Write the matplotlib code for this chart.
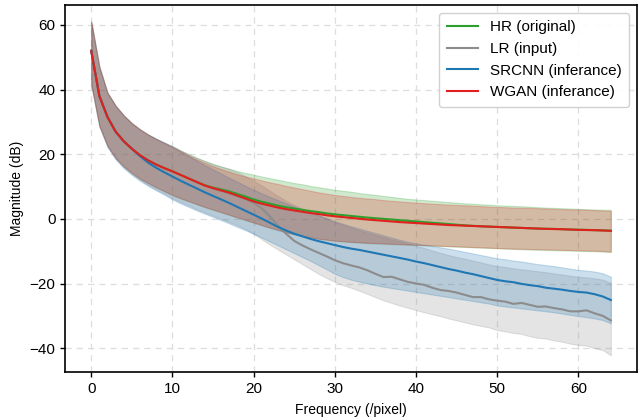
import numpy as np
import matplotlib
matplotlib.use("Agg")
import matplotlib.pyplot as plt

plt.rcParams['font.family'] = ['Liberation Sans', 'DejaVu Sans']

freq = list(range(65))

hr_mean = [52, 38, 31.5, 27, 24, 21.7, 19.7, 18.1, 16.8, 15.7, 14.7, 13.6, 12.5, 11.4, 10.4, 9.7, 9.1, 8.5, 7.7, 6.9,
           6.0, 5.3, 4.7, 4.1, 3.6, 3.2, 2.8, 2.4, 2.1, 1.7, 1.4, 1.15, 0.9, 0.65, 0.4, 0.2, 0.0, -0.2, -0.4, -0.6,
           -0.8, -1.0, -1.2, -1.4, -1.6, -1.8, -2.0, -2.15, -2.3, -2.4, -2.5, -2.6, -2.7, -2.8, -2.9, -3.0, -3.05, -3.1, -3.2, -3.3,
           -3.35, -3.4, -3.5, -3.55, -3.65]
hr_hi = [61, 47, 39, 35, 32, 29.6, 27.7, 26.1, 24.8, 23.6, 22.5, 21.2, 20.0, 18.9, 17.9, 17.0, 16.2, 15.5, 14.8, 14.2,
         13.7, 13.1, 12.6, 12.1, 11.6, 11.1, 10.7, 10.2, 9.8, 9.4, 9.0, 8.7, 8.4, 8.0, 7.7, 7.4, 7.1, 6.8, 6.5, 6.2,
         6.0, 5.8, 5.6, 5.4, 5.2, 5.0, 4.8, 4.7, 4.5, 4.4, 4.2, 4.1, 4.0, 3.9, 3.8, 3.6, 3.5, 3.4, 3.3, 3.2,
         3.1, 3.0, 2.9, 2.85, 2.8]
hr_lo = [41.5, 28.7, 22.5, 18.8, 16.2, 14.2, 12.4, 11.0, 9.7, 8.5, 7.3, 6.3, 5.4, 4.5, 3.6, 2.8, 2.0, 1.2, 0.4, -0.4,
         -1.2, -2.0, -2.8, -3.5, -4.2, -4.8, -5.3, -5.8, -6.2, -6.5, -6.8, -7.0, -7.2, -7.35, -7.5, -7.6, -7.7, -7.8, -7.9, -8.0,
         -8.1, -8.2, -8.3, -8.4, -8.5, -8.6, -8.7, -8.8, -8.9, -9.0, -9.1, -9.2, -9.3, -9.4, -9.5, -9.55, -9.6, -9.7, -9.75, -9.8,
         -9.9, -9.95, -10.0, -10.1, -10.3]

lr_mean = [52, 38, 31.5, 27, 24, 21.7, 19.7, 18.1, 16.8, 15.7, 14.7, 13.6, 12.5, 11.4, 10.3, 9.5, 8.7, 7.9, 7.0, 6.1,
           5.0, 3.3, 0.7, -2.1, -4.6, -6.8, -8.2, -9.4, -10.5, -11.6, -12.8, -13.7, -14.4, -15.0, -15.9, -17.0, -18.0, -17.9, -18.7, -19.5,
           -20.0, -20.4, -21.3, -22.0, -22.3, -22.8, -23.5, -24.2, -24.2, -24.9, -25.3, -25.6, -26.3, -26.0, -26.6, -27.2, -27.1, -27.6, -28.0, -28.6,
           -28.6, -28.3, -29.2, -30.0, -31.4]
lr_hi = [61, 47, 39, 35, 32, 29.6, 27.7, 26.1, 24.8, 23.6, 22.5, 21.2, 20.0, 18.9, 17.9, 17.0, 16.2, 15.5, 14.5, 13.2,
         11.8, 10.3, 8.7, 7.1, 5.6, 4.3, 3.1, 2.1, 1.1, 0.1, -1.0, -1.8, -2.7, -3.5, -4.3, -5.0, -5.7, -6.4, -7.0, -7.6,
         -8.3, -9.0, -9.8, -10.5, -11.2, -11.8, -12.3, -12.9, -13.5, -14.1, -14.6, -14.9, -15.3, -15.6, -15.9, -16.2, -16.5, -16.9, -17.2, -17.6,
         -17.9, -18.1, -18.4, -18.8, -19.8]
lr_lo = [41.8, 28.8, 22.5, 18.7, 16.0, 13.9, 12.1, 10.5, 9.1, 7.8, 6.4, 5.2, 4.1, 3.0, 2.0, 1.0, 0.0, -1.0, -2.0, -3.2,
         -4.6, -6.3, -8.0, -9.5, -11.0, -12.5, -14.0, -15.5, -17.0, -18.3, -19.5, -20.5, -21.3, -22.2, -23.2, -24.2, -25.2, -26.0, -26.8, -27.5,
         -28.2, -28.9, -29.5, -30.1, -30.8, -31.4, -32.0, -32.6, -33.1, -33.6, -34.4, -34.8, -35.3, -35.6, -36.3, -36.8, -37.0, -37.6, -38.0, -38.6,
         -39.0, -39.2, -40.0, -40.6, -42.2]

sr_mean = [52, 38, 31.5, 27, 24, 21.7, 19.4, 17.4, 15.8, 14.4, 13.1, 11.8, 10.6, 9.4, 8.2, 7.1, 6.0, 4.9, 3.7, 2.5,
           1.3, 0.1, -1.2, -2.5, -3.6, -4.6, -5.4, -6.2, -6.9, -7.5, -8.1, -8.7, -9.2, -9.6, -10.1, -10.6, -11.1, -11.6, -12.1, -12.6,
           -13.2, -13.7, -14.3, -14.9, -15.5, -16.0, -16.6, -17.1, -17.7, -18.3, -18.9, -19.3, -19.6, -20.1, -20.5, -20.8, -21.3, -21.6, -21.9, -22.3,
           -22.6, -22.8, -23.3, -24.0, -25.1]
sr_hi = [61, 47, 39, 35, 32, 29.6, 27.7, 26.1, 24.8, 23.6, 22.3, 20.9, 19.4, 18.0, 16.6, 15.3, 14.0, 12.7, 11.5, 10.2,
         9.0, 7.9, 6.8, 5.8, 4.8, 3.8, 2.9, 2.0, 1.1, 0.2, -0.8, -1.5, -2.3, -3.0, -3.7, -4.4, -5.1, -5.8, -6.5, -7.1,
         -7.6, -8.0, -8.4, -8.8, -9.2, -9.7, -10.2, -10.7, -11.2, -11.7, -12.2, -12.5, -12.9, -13.2, -13.6, -14.0, -14.3, -14.6, -15.0, -15.4,
         -15.8, -16.0, -16.3, -16.8, -17.9]
sr_lo = [41.5, 28.5, 22.2, 18.4, 15.7, 13.6, 11.8, 10.2, 8.8, 7.5, 6.0, 4.8, 3.7, 2.6, 1.6, 0.6, -0.4, -1.4, -2.5, -3.5,
         -4.6, -5.8, -7.0, -8.2, -9.4, -10.6, -11.8, -13.0, -14.3, -15.6, -17.0, -18.0, -18.8, -19.4, -20.0, -20.5, -21.0, -21.4, -21.8, -22.2,
         -22.6, -23.0, -23.4, -23.8, -24.2, -24.6, -25.0, -25.4, -25.8, -26.2, -26.8, -27.1, -27.4, -27.7, -28.0, -28.3, -28.6, -28.9, -29.3, -29.7,
         -30.1, -30.4, -30.8, -31.3, -32.3]

wg_mean = [52, 38, 31.5, 27, 24, 21.7, 19.7, 18.1, 16.8, 15.7, 14.7, 13.6, 12.5, 11.4, 10.3, 9.5, 8.8, 8.1, 7.2, 6.3,
           5.4, 4.7, 4.1, 3.5, 3.0, 2.6, 2.2, 1.8, 1.5, 1.1, 0.8, 0.55, 0.3, 0.05, -0.2, -0.4, -0.6, -0.8, -1.0, -1.15,
           -1.3, -1.45, -1.6, -1.75, -1.9, -2.0, -2.1, -2.2, -2.3, -2.4, -2.5, -2.6, -2.7, -2.8, -2.9, -3.0, -3.1, -3.15, -3.2, -3.3,
           -3.4, -3.45, -3.5, -3.6, -3.7]
wg_hi = [61, 47, 39, 35, 32, 29.6, 27.7, 26.1, 24.7, 23.4, 22.2, 20.9, 19.6, 18.4, 17.3, 16.3, 15.4, 14.6, 13.8, 13.1,
         12.5, 11.9, 11.3, 10.8, 10.2, 9.7, 9.2, 8.7, 8.2, 7.8, 7.4, 7.1, 6.8, 6.5, 6.3, 6.1, 5.8, 5.6, 5.4, 5.2,
         5.0, 4.85, 4.7, 4.55, 4.4, 4.3, 4.2, 4.1, 3.95, 3.8, 3.7, 3.6, 3.5, 3.45, 3.4, 3.3, 3.2, 3.1, 3.0, 2.95,
         2.9, 2.8, 2.7, 2.6, 2.5]
wg_lo = [41.6, 28.8, 22.6, 18.9, 16.3, 14.3, 12.5, 11.1, 9.8, 8.6, 7.4, 6.4, 5.5, 4.6, 3.7, 2.9, 2.1, 1.3, 0.5, -0.3,
         -1.1, -1.9, -2.7, -3.4, -4.1, -4.7, -5.2, -5.7, -6.1, -6.4, -6.7, -6.9, -7.1, -7.25, -7.4, -7.5, -7.6, -7.7, -7.8, -7.9,
         -8.0, -8.1, -8.2, -8.3, -8.4, -8.5, -8.6, -8.7, -8.8, -8.9, -9.0, -9.1, -9.2, -9.25, -9.3, -9.4, -9.45, -9.5, -9.6, -9.65,
         -9.7, -9.8, -9.85, -9.95, -10.1]

series = [
    ("HR (original)", hr_mean, hr_lo, hr_hi, "#2ca02c"),
    ("LR (input)", lr_mean, lr_lo, lr_hi, "#8c8c8c"),
    ("SRCNN (inferance)", sr_mean, sr_lo, sr_hi, "#1f77b4"),
    ("WGAN (inferance)", wg_mean, wg_lo, wg_hi, "#e0201c"),
]

fig = plt.figure(figsize=(6.4, 4.17), dpi=100)
ax = fig.add_axes([0.102, 0.108, 0.893, 0.88])

for label, m, lo, hi, c in series:
    ax.plot(freq, m, color=c, lw=1.5, label=label)
    ax.fill_between(freq, lo, hi, color=c, alpha=0.23, lw=0.8)

ax.grid(True, linestyle=(0, (5, 4)), color="#dddddd", lw=0.9)
ax.set_axisbelow(True)
ax.set_xticks([0, 10, 20, 30, 40, 50, 60])
ax.set_yticks([-40, -20, 0, 20, 40, 60])
ax.tick_params(labelsize=11, length=3.5, width=1)
for s in ax.spines.values():
    s.set_linewidth(1.2)
ax.set_xlabel("Frequency (/pixel)", fontsize=10, labelpad=5)
ax.set_ylabel("Magnitude (dB)", fontsize=10, labelpad=4)
ax.legend(loc="upper right", fontsize=11, handlelength=2.0, framealpha=0.9, borderpad=0.5, labelspacing=0.5)

fig.savefig("out.png", dpi=100)
